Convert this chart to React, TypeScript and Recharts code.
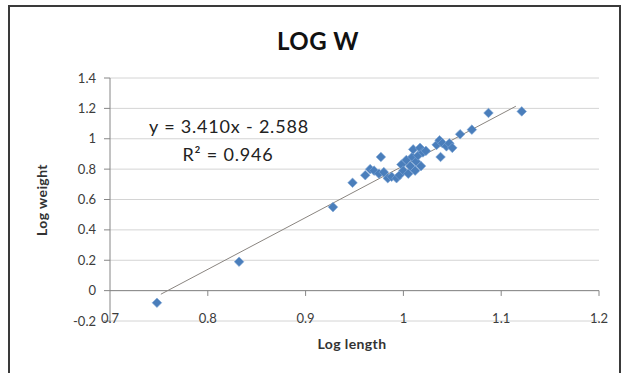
import React from "react";
import { ScatterChart, Scatter, XAxis, YAxis, CartesianGrid, ReferenceLine } from "recharts";

// log length / log weight pairs
const logLength = [
    0.748, 0.832, 0.928, 0.948, 0.961, 0.966, 0.970, 0.975, 0.977, 0.980,
    0.984, 0.988, 0.993, 0.996, 0.998, 1.000, 1.003, 1.005, 1.007, 1.009,
    1.010, 1.012, 1.013, 1.015, 1.017, 1.018, 1.020, 1.023, 1.034, 1.037,
    1.038, 1.040, 1.044, 1.047, 1.050, 1.058, 1.070, 1.087, 1.121,
];
const logWeight = [
    -0.08, 0.19, 0.55, 0.71, 0.76, 0.8, 0.79, 0.77, 0.88, 0.78,
    0.74, 0.75, 0.74, 0.76, 0.83, 0.79, 0.86, 0.77, 0.82, 0.88,
    0.93, 0.79, 0.85, 0.89, 0.94, 0.82, 0.91, 0.92, 0.96, 0.99,
    0.88, 0.97, 0.95, 0.97, 0.94, 1.03, 1.06, 1.17, 1.18,
];

const xTicks = [0.7, 0.8, 0.9, 1, 1.1, 1.2];
const yTicks = [-0.2, 0, 0.2, 0.4, 0.6, 0.8, 1, 1.2, 1.4];

// trendline as printed on the chart
const slope = 3.41;
const intercept = -2.588;
const trendStart = 0.752;
const trendEnd = 1.115;

const points = logLength.map((x, i) => ({ x, y: logWeight[i] }));
const trendSegment = [
    { x: trendStart, y: slope * trendStart + intercept },
    { x: trendEnd, y: slope * trendEnd + intercept },
];

const FONT = "Lato, 'Open Sans', sans-serif";
const AXIS = "#868686";
const LABEL = "#3c3c3c";

const Diamond = ({ cx, cy }: any) => (
    <polygon
        points={`${cx},${cy - 4.8} ${cx + 4.8},${cy} ${cx},${cy + 4.8} ${cx - 4.8},${cy}`}
        fill="#4a7ebb"
        stroke="#7ea6d6"
        strokeWidth={0.6}
    />
);

const XTick = ({ x, y, payload }: any) => (
    <text x={x} y={y} dy={-6} textAnchor="middle" fontSize={13} fontFamily={FONT} fill={LABEL}>
        {payload.value}
    </text>
);

export default function App() {
    return (
        <div style={{ position: "absolute", left: 0, top: 0, width: 625, height: 373, background: "#fff", overflow: "hidden" }}>
            <div
                style={{
                    position: "absolute", left: 8, top: 5, width: 609, height: 420,
                    border: "2px solid #3a3a3a", borderBottom: "none",
                }}
            />
            <div style={{ position: "absolute", left: 0, top: 0 }}>
                <ScatterChart width={625} height={373} margin={{ top: 78, right: 26, bottom: 22, left: 0 }}>
                    <CartesianGrid vertical={false} stroke="#d4d4d4" />
                    <XAxis
                        type="number"
                        dataKey="x"
                        domain={[0.7, 1.2]}
                        ticks={xTicks}
                        axisLine={false}
                        tickLine={false}
                        height={30}
                        tick={<XTick />}
                    />
                    <YAxis
                        type="number"
                        dataKey="y"
                        domain={[-0.2, 1.4]}
                        ticks={yTicks}
                        width={110}
                        stroke={AXIS}
                        tickSize={6}
                        tickMargin={8}
                        tick={{ fontSize: 13, fontFamily: FONT, fill: LABEL }}
                    />
                    <ReferenceLine y={0} stroke={AXIS} />
                    {xTicks.slice(1).map((t) => (
                        <ReferenceLine key={t} segment={[{ x: t, y: 0 }, { x: t, y: -0.035 }]} stroke={AXIS} />
                    ))}
                    <ReferenceLine segment={trendSegment} stroke="#8a8580" strokeWidth={1} />
                    <Scatter data={points} shape={<Diamond />} isAnimationActive={false} />
                </ScatterChart>
            </div>
            <svg width={625} height={373} style={{ position: "absolute", left: 0, top: 0, pointerEvents: "none" }}>
                <text x={318} y={50} textAnchor="middle" fontSize={24} fontWeight="bold" fontFamily={FONT} fill="#111" letterSpacing={0.5}>
                    LOG W
                </text>
                <text x={229} y={133} textAnchor="middle" fontSize={18} fontFamily={FONT} fill="#222" letterSpacing={0.8}>
                    y = 3.410x - 2.588
                </text>
                <text x={228} y={161} textAnchor="middle" fontSize={18} fontFamily={FONT} fill="#222" letterSpacing={0.8}>
                    R² = 0.946
                </text>
                <text x={352} y={349} textAnchor="middle" fontSize={14} fontWeight="bold" fontFamily={FONT} fill="#333" letterSpacing={0.4}>
                    Log length
                </text>
                <text
                    x={43}
                    y={200}
                    transform="rotate(-90 43 200)"
                    dy={4}
                    textAnchor="middle"
                    fontSize={14}
                    fontWeight="bold"
                    fontFamily={FONT}
                    fill="#333"
                    letterSpacing={0.4}
                >
                    Log weight
                </text>
            </svg>
        </div>
    );
}
